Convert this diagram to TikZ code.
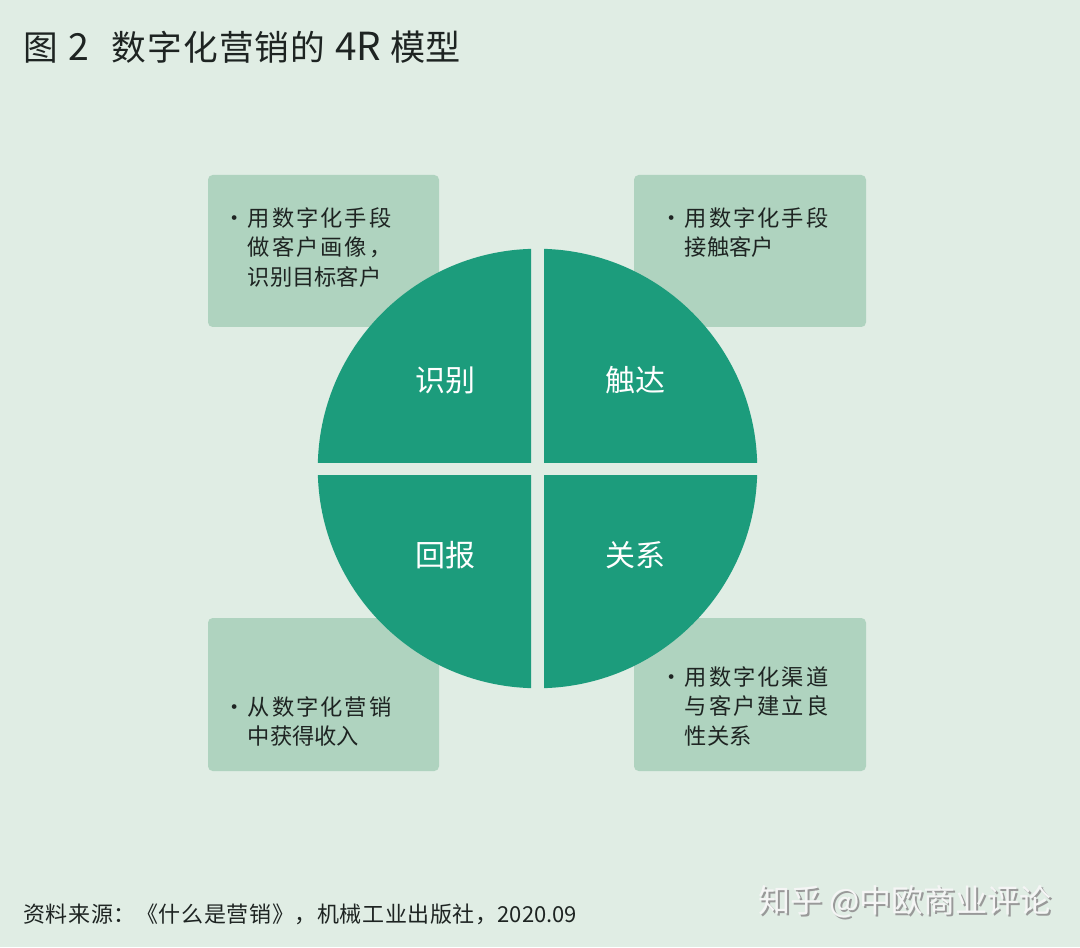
\documentclass[tikz,border=0pt]{standalone}
\usepackage{fontspec}
\setmainfont{Noto Sans CJK SC}
\newfontfamily\cjkwide[LetterSpace=9]{Noto Sans CJK SC}
\newfontfamily\cjkfoot[LetterSpace=2.8]{Noto Sans CJK SC}
\newfontfamily\cjktitle[LetterSpace=3]{Noto Sans CJK SC}
\definecolor{bgc}{HTML}{E0EDE4}
\definecolor{boxc}{HTML}{AFD3BF}
\definecolor{pie}{HTML}{1C9C7C}
\definecolor{ink}{HTML}{1E2422}
\tikzset{
  infobox/.style={fill=boxc,rounded corners=3.5pt},
  desc/.style={anchor=north west,inner sep=0pt,align=left,text=ink,font=\fontsize{16.7}{22.3}\selectfont},
  quad/.style={text=white,font=\fontsize{22.5}{26}\selectfont,inner sep=0pt},
}
\newcommand{\wl}[1]{{\cjkwide #1}}
\newcommand{\dotmark}{\llap{·\hspace{1.8pt}}}
\begin{document}
\begin{tikzpicture}[x=0.75pt,y=0.75pt]
\useasboundingbox (0,0) rectangle (1080,947);
\fill[bgc] (0,0) rectangle (1080,947);
% boxes (y measured upward: 947 - image y)
\fill[infobox] (208,772) rectangle (439,620);
\fill[infobox] (634,772) rectangle (866,620);
\fill[infobox] (208,329) rectangle (439,176);
\fill[infobox] (634,329) rectangle (866,176);
% quarter discs
\begin{scope}\clip (300,485) rectangle (531,720);\fill[pie] (537.5,478.5) circle [radius=164.8pt];\end{scope}
\begin{scope}\clip (544,485) rectangle (780,720);\fill[pie] (537.5,478.5) circle [radius=164.8pt];\end{scope}
\begin{scope}\clip (300,472) rectangle (531,240);\fill[pie] (537.5,478.5) circle [radius=164.8pt];\end{scope}
\begin{scope}\clip (544,472) rectangle (780,240);\fill[pie] (537.5,478.5) circle [radius=164.8pt];\end{scope}
% quadrant labels
\node[quad] (q1) at (445,567) {识别};
\node[quad] (q2) at (635,567) {触达};
\node[quad] (q3) at (445,392) {回报};
\node[quad] (q4) at (635,392) {关系};
% descriptions
\node[desc] (d1) at (247.5,740) {\dotmark\wl{用数字化手段}\\\wl{做客户画像，}\\识别目标客户};
\node[desc] (d2) at (684.5,740) {\dotmark\wl{用数字化手段}\\接触客户};
\node[desc] (d3) at (247.5,251) {\dotmark\wl{从数字化营销}\\中获得收入};
\node[desc] (d4) at (684.5,281) {\dotmark\wl{用数字化渠道}\\\wl{与客户建立良}\\性关系};
% title and source
\node[anchor=base west,inner sep=0pt,text=ink,font=\fontsize{26}{30}\selectfont] (title) at (23,886)
  {图\hspace{8pt}\fontsize{28}{30}\selectfont 2\fontsize{26}{30}\selectfont\hspace{17pt}{\cjktitle 数字化营销的}\hspace{7.5pt}\fontsize{29}{30}\selectfont 4R\fontsize{26.4}{30}\selectfont\hspace{7pt}模型};
\node[anchor=base west,inner sep=0pt,text=ink,font=\fontsize{16.5}{20}\selectfont] (source) at (23,25)
  {{\cjkfoot 资料来源：《什么是营销》，机械工业出版社，}2020.09};
% watermark
\node[anchor=base east,inner sep=0pt,text=black!40,font=\fontsize{24}{26}\selectfont] (wms) at (1054,33) {知乎 @中欧商业评论};
\node[anchor=base east,inner sep=0pt,text=white!96!black,font=\fontsize{24}{26}\selectfont] (wm) at (1052,35) {知乎 @中欧商业评论};
\end{tikzpicture}
\end{document}
